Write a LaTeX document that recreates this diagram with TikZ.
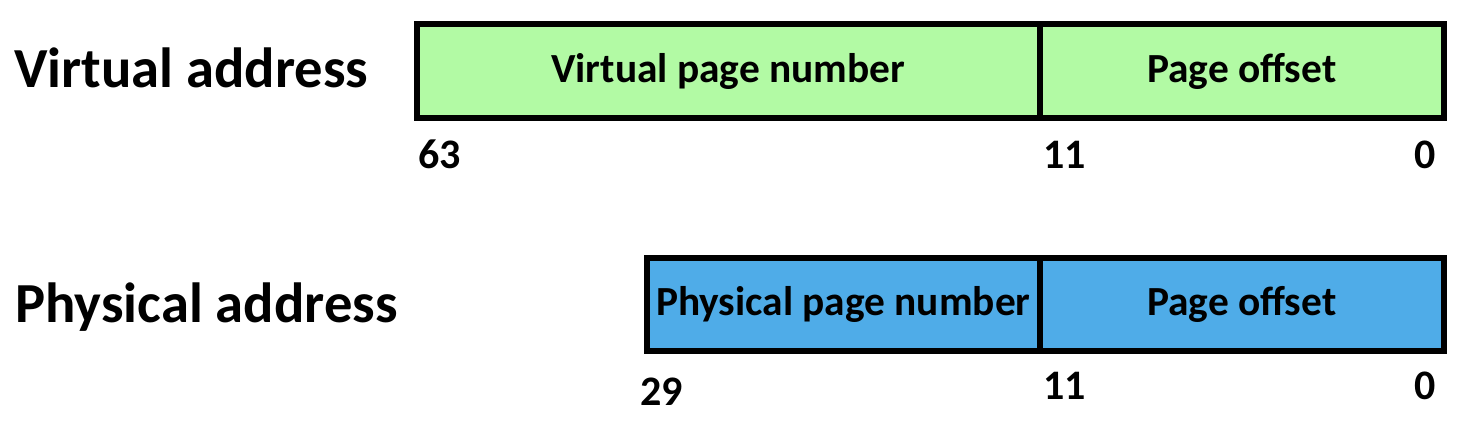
\documentclass[tikz,border=0pt]{standalone}
\usepackage{fontspec}
\setmainfont{Carlito}
\definecolor{vgreen}{RGB}{178,250,164}
\definecolor{pblue}{RGB}{79,172,232}

\begin{document}
\begin{tikzpicture}[x=0.5pt, y=-0.5pt]
\tikzset{champ/.style={draw=black, line width=3pt, minimum height=47pt, inner sep=0pt, font=\bfseries\fontsize{20.7}{24}\selectfont},
         titre/.style={anchor=base west, inner sep=0pt, font=\bfseries\fontsize{28.3}{34}\selectfont},
         bit/.style={inner sep=0pt, font=\bfseries\fontsize{21}{24}\selectfont}}
\useasboundingbox (0, 0) rectangle (1464, 422);
\node[titre] (VA) at (14, 88) {Virtual address};
\node[titre] (PA) at (15, 323) {Physical address};
\node[champ, fill=vgreen, minimum width=311.25pt] (VPN) at (728.25, 71) {Virtual page number};
\node[champ, fill=vgreen, minimum width=202.25pt] (VPO) at (1241.75, 71) {Page offset};
\node[champ, fill=pblue, minimum width=196.25pt, minimum height=46.5pt] (PPN) at (843.25, 304.5) {Physical page number};
\node[champ, fill=pblue, minimum width=202.25pt, minimum height=46.5pt] (PPO) at (1241.75, 304.5) {Page offset};
\node[bit, anchor=base west] (V63) at (418, 169) {63};
\node[bit, anchor=base west] (V11) at (1043, 169) {11};
\node[bit, anchor=base east] (V0) at (1436, 169) {0};
\node[bit, anchor=base west] (P29) at (640, 406) {29};
\node[bit, anchor=base west] (P11) at (1043, 400) {11};
\node[bit, anchor=base east] (P0) at (1436, 400) {0};
\end{tikzpicture}
\end{document}
